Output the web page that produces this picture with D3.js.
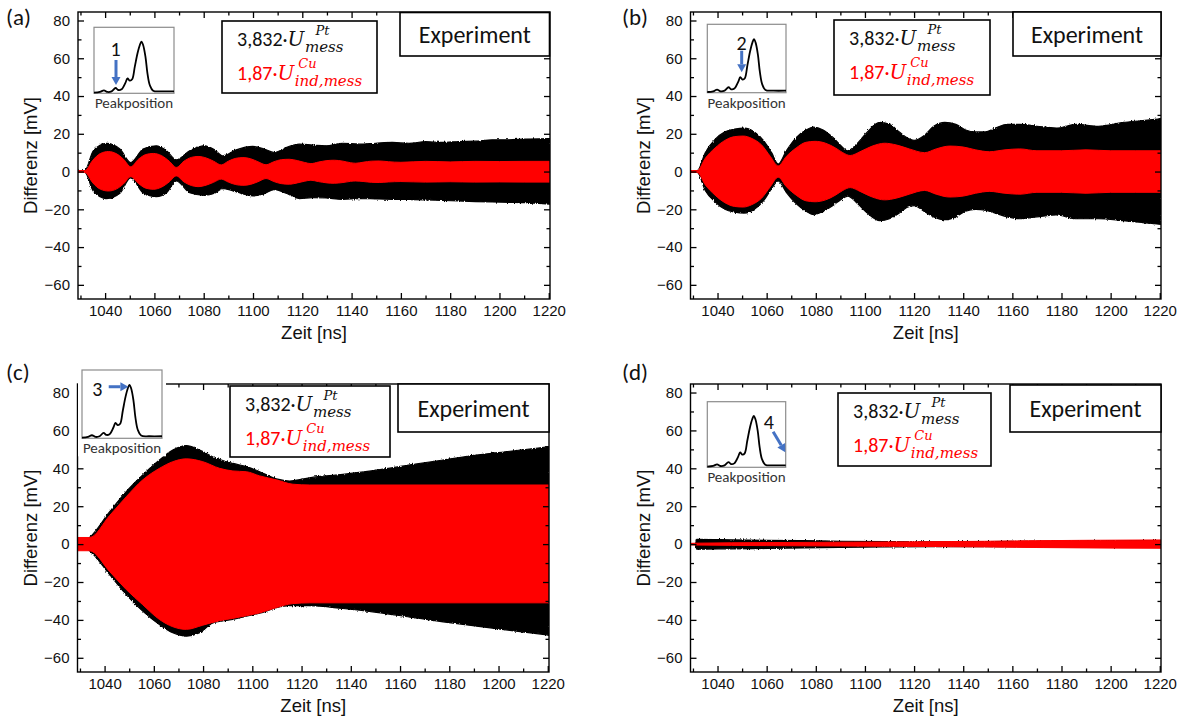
<!DOCTYPE html>
<html>
<head>
<meta charset="utf-8">
<script src="https://cdn.jsdelivr.net/npm/d3@7"></script>
<style>
  html, body { margin: 0; padding: 0; background: #ffffff; }
  svg { display: block; }
</style>
</head>
<body>
<svg id="fig" width="1187" height="719"></svg>
<script>
// ---------------------------------------------------------------------------
// Axis definitions
// ---------------------------------------------------------------------------
const timeDomain = [1029, 1220.5];          // ns
const voltDomain = [-67.5, 84.5];           // mV
const timeTicks = [1040, 1060, 1080, 1100, 1120, 1140, 1160, 1180, 1200, 1220];
const timeMinorTicks = [1030, 1050, 1070, 1090, 1110, 1130, 1150, 1170, 1190, 1210];
const voltTicks = [-60, -40, -20, 0, 20, 40, 60, 80];
const voltMinorTicks = [-50, -30, -10, 10, 30, 50, 70];
const xTitle = "Zeit [ns]";
const yTitle = "Differenz [mV]";
const panelLetters = ["(a)", "(b)", "(c)", "(d)"];
const peakNumbers = ["1", "2", "3", "4"];
const boxTitle = "Experiment";

// ---------------------------------------------------------------------------
// Envelopes of the measured signals (upper / lower bound of the oscillation)
// Pt: 3,832·U_mess^Pt (black)   Cu: 1,87·U_ind,mess^Cu (red)
// ---------------------------------------------------------------------------
// (a) peak position 1
const ptTimeA = [1029, 1031.8, 1035.2, 1040.6, 1046, 1050.4, 1055.4, 1060.8, 1064.9, 1068.9, 1074.3, 1080.4, 1084.4, 1087.8, 1093.2, 1099.9, 1104, 1108.7, 1113.4, 1118.8, 1124.2, 1129.6, 1136.3, 1143.1, 1149.8, 1156.6, 1163.3, 1170, 1176.8, 1183.5, 1190.3, 1197, 1203.8, 1210.5, 1220.5];
const ptHighA = [0.3, 0.5, 11, 14.9, 11.9, 4.8, 11.9, 13.6, 11, 6.2, 11, 13.6, 11.5, 8.3, 11.5, 13.3, 12.2, 10.1, 12.7, 14.5, 14, 13.6, 15, 14.5, 15, 15.4, 15, 15.8, 15.4, 15.9, 16.1, 16.8, 16.8, 17.2, 17.5];
const ptLowA  = [-0.3, -0.5, -10.3, -14.3, -11.5, -3.2, -11.2, -13.3, -11.2, -5, -11.2, -12.6, -11.5, -9, -10.8, -12.9, -12, -9.6, -11.5, -14.3, -13.8, -14, -14.8, -14.3, -14.5, -14.7, -14.8, -15, -15.3, -15.6, -15.9, -16.1, -16.3, -16.5, -17.3];
const cuTimeA = [1029, 1031.8, 1035, 1038, 1041.3, 1044.5, 1047.5, 1050.4, 1053.5, 1056.5, 1059.5, 1062.8, 1066, 1068.9, 1072, 1075, 1077.7, 1081, 1084, 1087.1, 1090, 1093, 1095.9, 1099, 1102, 1105.3, 1108.5, 1111.5, 1114.8, 1118, 1121, 1123.5, 1126.5, 1130, 1133, 1136.5, 1139.5, 1141.7, 1145, 1148, 1151.2, 1155, 1160, 1170, 1180, 1190, 1200, 1210, 1220.5];
const cuHighA = [0.5, 0.5, 6, 9.5, 10.6, 9.5, 6.5, 2.5, 6.5, 9, 9.6, 8.5, 5.5, 2.2, 5.5, 7.5, 8, 7.2, 5.5, 3.5, 5.5, 7, 7.4, 6.8, 5.2, 3.6, 5.2, 6.3, 6.5, 5.8, 4.8, 4.2, 5, 5.8, 6, 5.5, 4.7, 4.4, 5, 5.5, 5.6, 5.2, 4.9, 5.4, 5.1, 5.4, 5.3, 5.4, 5.4];
const cuLowA  = [-0.5, -0.5, -6, -9.3, -10.3, -9.3, -6.5, -2.7, -6.3, -8.8, -9.4, -8.3, -5.5, -2.3, -5.5, -7.4, -8, -7.2, -5.7, -4, -5.6, -6.9, -7.3, -6.8, -5.4, -3.7, -5.3, -6.4, -6.7, -6, -5.1, -4.6, -5.3, -6, -6.2, -5.8, -5.2, -5, -5.3, -5.7, -5.8, -5.5, -5.3, -5.6, -5.4, -5.6, -5.5, -5.6, -5.6];

// (b) peak position 2
const ptTimeB = [1029, 1031.8, 1035, 1039, 1043, 1047, 1051, 1055, 1059, 1062, 1064.7, 1068, 1072, 1076, 1079, 1083, 1087, 1090, 1093, 1097, 1101, 1106, 1110, 1114, 1117, 1120, 1124, 1128, 1132.5, 1137, 1141, 1145, 1149, 1153, 1158, 1163, 1170, 1178, 1186, 1195, 1205, 1213, 1220.5];
const ptHighB = [0.3, 0.5, 10, 17, 21, 22.5, 23, 21, 16, 10, 4, 11, 18, 22, 23.5, 22, 18, 14, 11, 15, 21, 26, 25, 21, 18, 16.5, 19, 24, 26, 25, 22, 21, 21, 23, 25, 25, 24, 23, 25, 24, 26, 27, 28];
const ptLowB  = [-0.3, -0.5, -10, -16, -20, -21.5, -22, -20, -15, -9, -5, -11, -17, -21, -22.8, -21, -18, -15, -13, -17, -22, -26, -25, -22, -19, -18, -21, -24, -25.5, -24, -21, -20, -20.5, -22, -24, -25, -24, -23, -25, -25, -26, -27, -28];
const cuTimeB = [1029, 1031.8, 1035, 1039, 1043, 1047, 1050.5, 1054, 1058, 1061.5, 1064.7, 1068, 1072, 1076, 1079.7, 1084, 1088, 1091, 1094, 1098, 1103, 1108, 1113, 1118, 1124.3, 1129, 1134.5, 1140, 1145, 1150.7, 1157, 1163, 1170, 1180, 1190, 1200, 1210, 1220.5];
const cuHighB = [0.5, 0.5, 7, 12.5, 16.5, 18.5, 18.8, 17.5, 14, 8, 3, 8, 12.5, 15.5, 16, 15, 12.5, 10, 8.5, 10.5, 13.5, 15, 14, 12, 10, 12, 13.5, 13, 11.5, 10.5, 11.5, 12, 11, 11, 11.5, 11, 11, 11];
const cuLowB  = [-0.5, -0.5, -7, -12.5, -16.5, -18.5, -18.8, -17.5, -14, -8, -3, -8, -12.5, -15.5, -16, -15, -12.5, -10, -8.5, -10.5, -13.5, -15, -14, -12, -10, -12, -13.5, -13, -11.5, -10.5, -11.5, -12, -11, -11, -11.5, -11, -11, -11];

// (c) peak position 3
const ptTimeC = [1029, 1033.9, 1042, 1048.8, 1055.5, 1062.3, 1067.7, 1073.2, 1078.6, 1084, 1092.1, 1097.6, 1103, 1109.8, 1115.2, 1123.3, 1136.8, 1150.4, 1164, 1177.5, 1191.1, 1204.6, 1220.5];
const ptHighC = [0, 3.5, 17, 27.7, 36.5, 44.4, 49.6, 52, 49.6, 46, 42.6, 40.9, 38.2, 34.4, 33.3, 35, 36.8, 39, 41.8, 44.4, 47, 49, 51.4];
const ptLowC  = [0, -3.5, -16, -26.7, -35.4, -42.5, -46.8, -48.6, -46.8, -41.6, -39.8, -38, -36.5, -33.5, -32.5, -32.5, -34, -36, -38.5, -41, -43.3, -45.5, -48];
const cuTimeC = [1029, 1033.9, 1042, 1048.8, 1055.5, 1062.3, 1067.7, 1073.2, 1079.9, 1086.7, 1092.1, 1097.6, 1103, 1109.8, 1116.5, 1123.3, 1220.5];
const cuHighC = [3.5, 3.5, 15, 25, 33.9, 40, 43.5, 45, 43.5, 40, 38.6, 38.2, 36, 33.9, 31.6, 31.2, 31.2];
const cuLowC  = [-3.5, -3.5, -14.4, -24, -32, -39.8, -43.6, -45, -42.8, -40.4, -39.2, -37.8, -36.3, -33.5, -31.4, -31, -31];

// (d) peak position 4
const ptTimeD = [1029, 1031, 1031.5, 1045, 1060, 1075, 1090, 1110, 1130, 1160, 1220.5];
const ptHighD = [0, 0, 2.5, 2.3, 2, 1.8, 1.5, 1.3, 1.2, 1.4, 1.8];
const ptLowD  = [0, 0, -2.7, -2.5, -2.3, -2, -1.7, -1.5, -1.3, -1.4, -1.8];
const cuTimeD = [1029, 1031.5, 1060, 1090, 1120, 1150, 1170, 1190, 1220.5];
const cuHighD = [0.4, 0.5, 0.8, 1, 1.2, 1.5, 1.8, 2, 2.2];
const cuLowD  = [-0.4, -0.5, -0.8, -1, -1.2, -1.5, -1.8, -2, -2.2];

// Reference spectrum shown in the small "Peakposition" insets (relative units)
const profilePos = [0, 0.075, 0.124, 0.17, 0.22, 0.27, 0.303, 0.344, 0.394, 0.419, 0.448, 0.477, 0.51, 0.544, 0.573, 0.593, 0.614, 0.643, 0.668, 0.697, 0.739, 0.842, 1];
const profileAmp = [0.01, 0.02, 0.045, 0.02, 0.03, 0.08, 0.05, 0.06, 0.162, 0.227, 0.192, 0.212, 0.404, 0.606, 0.732, 0.783, 0.732, 0.556, 0.303, 0.126, 0.04, 0.03, 0.03];

// ---------------------------------------------------------------------------
// Layout of the four panels
// ---------------------------------------------------------------------------
const panels = [
  { pt: [ptTimeA, ptHighA, ptLowA], cu: [cuTimeA, cuHighA, cuLowA],
    frame: { l: 78, r: 550, t: 12, b: 299 }, letter: { x: 6, y: 25 },
    legend: { x: 222, y: 21, w: 155, h: 72 }, exp: { x: 400, y: 12.5, w: 149.5, h: 43.5 },
    inset: { x: 94, y: 27.3, w: 80, h: 66 },
    num: { fx: 0.27, fy: 0.32 }, arrow: { x1: 0.275, y1: 0.495, x2: 0.275, y2: 0.875 } },
  { pt: [ptTimeB, ptHighB, ptLowB], cu: [cuTimeB, cuHighB, cuLowB],
    frame: { l: 690.5, r: 1161, t: 12, b: 299 }, letter: { x: 622, y: 25 },
    legend: { x: 834, y: 20, w: 156, h: 75 }, exp: { x: 1013, y: 12, w: 148, h: 44 },
    inset: { x: 707.3, y: 24.3, w: 78.7, h: 68.4 },
    num: { fx: 0.437, fy: 0.263 }, arrow: { x1: 0.437, y1: 0.386, x2: 0.437, y2: 0.7 } },
  { pt: [ptTimeC, ptHighC, ptLowC], cu: [cuTimeC, cuHighC, cuLowC],
    frame: { l: 77.5, r: 549, t: 384, b: 672 }, letter: { x: 6, y: 380 },
    legend: { x: 230, y: 386, w: 160, h: 71 }, exp: { x: 398, y: 384, w: 151, h: 48 },
    inset: { x: 82, y: 370, w: 80, h: 68.3 },
    num: { fx: 0.19, fy: 0.264 }, arrow: { x1: 0.334, y1: 0.245, x2: 0.58, y2: 0.245 } },
  { pt: [ptTimeD, ptHighD, ptLowD], cu: [cuTimeD, cuHighD, cuLowD],
    frame: { l: 690.5, r: 1161, t: 384, b: 672 }, letter: { x: 622, y: 380 },
    legend: { x: 838, y: 393, w: 153, h: 73 }, exp: { x: 1010, y: 385, w: 151, h: 47 },
    inset: { x: 707.3, y: 401.7, w: 78.4, h: 65.6 },
    num: { fx: 0.785, fy: 0.305 }, arrow: { x1: 0.84, y1: 0.457, x2: 0.995, y2: 0.77 } }
];

const SANS = "'Liberation Sans', Arial, sans-serif";
const LABEL = "Carlito, Calibri, Lato, 'Open Sans', sans-serif";
const MATH = "'DejaVu Serif', 'Liberation Serif', serif";
const BLUE = "#4472c4";

const svg = d3.select("#fig");

// slightly ragged outline for the dense oscillation bands
const defs = svg.append("defs");
const rough = defs.append("filter").attr("id", "ragged")
  .attr("x", "-2%").attr("y", "-10%").attr("width", "104%").attr("height", "120%");
rough.append("feTurbulence").attr("type", "fractalNoise").attr("baseFrequency", "0.9 0.35")
  .attr("numOctaves", 1).attr("seed", 3).attr("result", "noise");
rough.append("feDisplacementMap").attr("in", "SourceGraphic").attr("in2", "noise")
  .attr("scale", 3).attr("xChannelSelector", "R").attr("yChannelSelector", "G");

// width of a string in a given font (used to stack sub- and superscripts)
function textWidth(str, family, size, style) {
  const t = svg.append("text").attr("font-family", family).attr("font-size", size)
    .attr("font-style", style || "normal").text(str);
  const w = t.node().getComputedTextLength();
  t.remove();
  return w;
}

panels.forEach((p, i) => {
  const f = p.frame;
  const g = svg.append("g");
  const x = d3.scaleLinear().domain(timeDomain).range([f.l, f.r]);
  const y = d3.scaleLinear().domain(voltDomain).range([f.b, f.t]);

  const clipId = "clip" + i;
  g.append("clipPath").attr("id", clipId)
    .append("rect").attr("x", f.l).attr("y", f.t).attr("width", f.r - f.l).attr("height", f.b - f.t);

  // envelopes -> rows
  const rows = (s) => s[0].map((t, k) => ({ t, hi: s[1][k], lo: s[2][k] }));
  const band = d3.area().x(d => x(d.t)).y0(d => y(d.lo)).y1(d => y(d.hi)).curve(d3.curveMonotoneX);

  const sig = g.append("g").attr("clip-path", `url(#${clipId})`);
  sig.append("path").datum(rows(p.pt)).attr("d", band)
    .attr("fill", "#000").attr("stroke", "#000").attr("stroke-width", 1.2).attr("stroke-linejoin", "round")
    .attr("filter", "url(#ragged)");
  sig.append("path").datum(rows(p.cu)).attr("d", band)
    .attr("fill", "#ff0000").attr("stroke", "#ff0000").attr("stroke-width", 1).attr("stroke-linejoin", "round");

  // axes: ticks on all four sides, pointing inward
  const styleAxis = (sel) => {
    sel.select(".domain").remove();
    sel.selectAll(".tick line").attr("stroke", "#000").attr("stroke-width", 1.3);
    sel.selectAll(".tick text").attr("font-family", SANS).attr("font-size", 15).attr("fill", "#111");
  };
  const major = 6, minor = 3.5;
  g.append("g").attr("transform", `translate(0,${f.b})`)
    .call(d3.axisBottom(x).tickValues(timeTicks).tickSize(-major).tickPadding(6).tickFormat(d3.format("d")))
    .call(styleAxis);
  g.append("g").attr("transform", `translate(0,${f.b})`)
    .call(d3.axisBottom(x).tickValues(timeMinorTicks).tickSize(-minor).tickFormat(""))
    .call(styleAxis);
  g.append("g").attr("transform", `translate(0,${f.t})`)
    .call(d3.axisTop(x).tickValues(timeTicks).tickSize(-major).tickFormat(""))
    .call(styleAxis);
  g.append("g").attr("transform", `translate(0,${f.t})`)
    .call(d3.axisTop(x).tickValues(timeMinorTicks).tickSize(-minor).tickFormat(""))
    .call(styleAxis);
  g.append("g").attr("transform", `translate(${f.l},0)`)
    .call(d3.axisLeft(y).tickValues(voltTicks).tickSize(-major).tickPadding(8).tickFormat(d3.format("d")))
    .call(styleAxis);
  g.append("g").attr("transform", `translate(${f.l},0)`)
    .call(d3.axisLeft(y).tickValues(voltMinorTicks).tickSize(-minor).tickFormat(""))
    .call(styleAxis);
  g.append("g").attr("transform", `translate(${f.r},0)`)
    .call(d3.axisRight(y).tickValues(voltTicks).tickSize(-major).tickFormat(""))
    .call(styleAxis);
  g.append("g").attr("transform", `translate(${f.r},0)`)
    .call(d3.axisRight(y).tickValues(voltMinorTicks).tickSize(-minor).tickFormat(""))
    .call(styleAxis);

  g.append("rect").attr("x", f.l).attr("y", f.t).attr("width", f.r - f.l).attr("height", f.b - f.t)
    .attr("fill", "none").attr("stroke", "#000").attr("stroke-width", 1.4);

  // axis titles
  g.append("text").attr("x", (f.l + f.r) / 2).attr("y", f.b + 40)
    .attr("text-anchor", "middle").attr("font-family", SANS).attr("font-size", 18.5).attr("fill", "#111")
    .text(xTitle);
  g.append("text").attr("transform", `translate(${f.l - 41},${(f.t + f.b) / 2}) rotate(-90)`)
    .attr("text-anchor", "middle").attr("font-family", SANS).attr("font-size", 18.5).attr("fill", "#111")
    .text(yTitle);

  // panel letter
  g.append("text").attr("x", p.letter.x).attr("y", p.letter.y)
    .attr("font-family", LABEL).attr("font-size", 23).attr("fill", "#111").text(panelLetters[i]);

  // "Experiment" box
  const e = p.exp;
  g.append("rect").attr("x", e.x).attr("y", e.y).attr("width", e.w).attr("height", e.h)
    .attr("fill", "#fff").attr("stroke", "#000").attr("stroke-width", 1.6);
  g.append("text").attr("x", e.x + e.w / 2).attr("y", e.y + e.h / 2 + 8.5)
    .attr("text-anchor", "middle").attr("font-family", LABEL).attr("font-size", 24).attr("fill", "#111")
    .text(boxTitle);

  // legend box with the two scaled signals: factor · U, subscript, superscript in one text run
  const L = p.legend;
  g.append("rect").attr("x", L.x).attr("y", L.y).attr("width", L.w).attr("height", L.h)
    .attr("fill", "#fff").attr("stroke", "#000").attr("stroke-width", 1.6);
  const subSize = 15, supSize = 13, subDrop = 6, supRise = 11.5;
  const legendLine = (yBase, color, factor, sup, sub, supShift) => {
    const subW = textWidth(sub, MATH, subSize, "italic");
    const t = g.append("text").attr("x", L.x + 15).attr("y", yBase).attr("fill", color);
    t.append("tspan").attr("font-family", LABEL).attr("font-size", 20).text(factor);
    t.append("tspan").attr("font-family", MATH).attr("font-style", "italic").attr("font-size", 20).text("U");
    t.append("tspan").attr("font-family", MATH).attr("font-style", "italic").attr("font-size", subSize)
      .attr("dx", 0.5).attr("dy", subDrop).text(sub);
    t.append("tspan").attr("font-family", MATH).attr("font-style", "italic").attr("font-size", supSize)
      .attr("dx", -(subW + 0.5) + supShift).attr("dy", -(subDrop + supRise)).text(sup);
  };
  legendLine(L.y + 25, "#111", "3,832·", "Pt", "mess", 11);
  legendLine(L.y + 58.5, "#ff0000", "1,87·", "Cu", "ind,mess", 4);

  // inset: reference spectrum with the marked peak position
  const b = p.inset;
  g.append("rect").attr("x", b.x - 4).attr("y", b.y - 2).attr("width", b.w + 8).attr("height", b.h + 20)
    .attr("fill", "#fff");
  g.append("rect").attr("x", b.x).attr("y", b.y).attr("width", b.w).attr("height", b.h)
    .attr("fill", "#fff").attr("stroke", "#8c8c8c").attr("stroke-width", 1.2);
  const ix = d3.scaleLinear().domain([0, 1]).range([b.x, b.x + b.w]);
  const iy = d3.scaleLinear().domain([0, 1]).range([b.y + b.h, b.y]);
  g.append("path").datum(profilePos.map((v, k) => [v, profileAmp[k]]))
    .attr("d", d3.line().x(d => ix(d[0])).y(d => iy(d[1])).curve(d3.curveCatmullRom))
    .attr("fill", "none").attr("stroke", "#000").attr("stroke-width", 1.8);
  g.append("text").attr("x", b.x + b.w / 2).attr("y", b.y + b.h + 15)
    .attr("text-anchor", "middle").attr("font-family", LABEL).attr("font-size", 15).attr("fill", "#333")
    .text("Peakposition");
  g.append("text").attr("x", ix(p.num.fx)).attr("y", b.y + p.num.fy * b.h + 7.5)
    .attr("text-anchor", "middle").attr("font-family", LABEL).attr("font-size", 20).attr("fill", "#111")
    .text(peakNumbers[i]);

  // blue arrow
  const a = p.arrow;
  const ax1 = ix(a.x1), ay1 = b.y + a.y1 * b.h, ax2 = ix(a.x2), ay2 = b.y + a.y2 * b.h;
  const ang = Math.atan2(ay2 - ay1, ax2 - ax1);
  const head = 8, half = 4.5;
  const bx = ax2 - head * Math.cos(ang), by = ay2 - head * Math.sin(ang);
  g.append("line").attr("x1", ax1).attr("y1", ay1).attr("x2", bx).attr("y2", by)
    .attr("stroke", BLUE).attr("stroke-width", 3);
  g.append("path")
    .attr("d", `M${ax2},${ay2}L${bx - half * Math.sin(ang)},${by + half * Math.cos(ang)}L${bx + half * Math.sin(ang)},${by - half * Math.cos(ang)}Z`)
    .attr("fill", BLUE);
});
</script>
</body>
</html>
